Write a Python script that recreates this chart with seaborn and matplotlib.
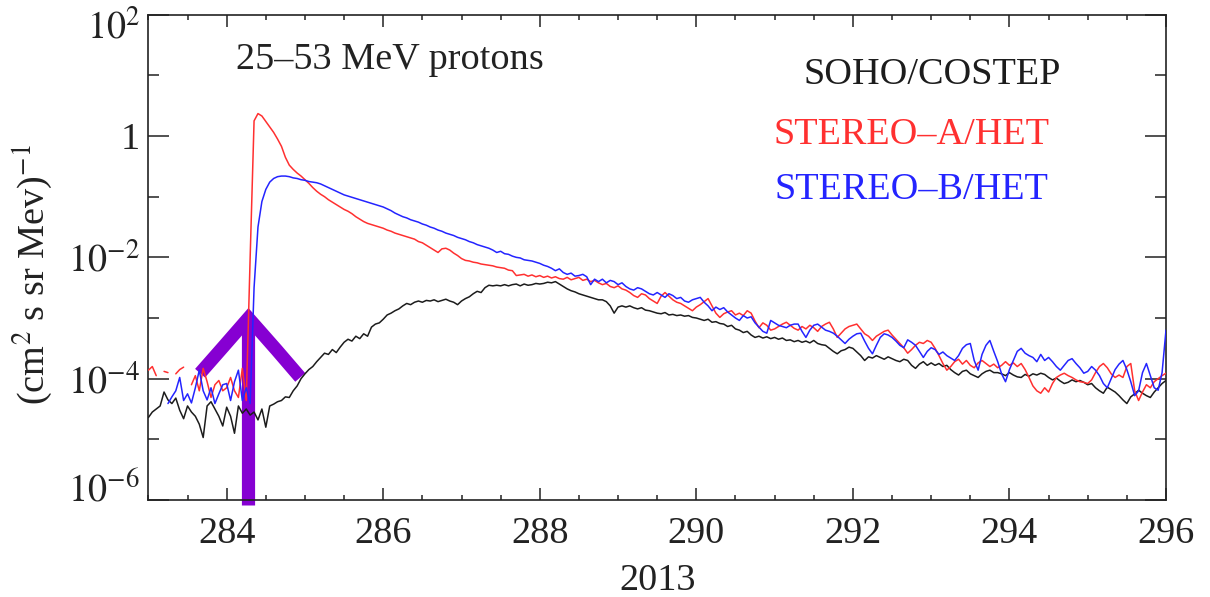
import numpy as np
import pandas as pd
import matplotlib
matplotlib.use("Agg")
import matplotlib.pyplot as plt
import matplotlib.transforms as mtransforms
import seaborn as sns
from matplotlib.ticker import FixedLocator, FixedFormatter, MultipleLocator

nan = np.nan

# time grid: day of year 2013, sampled every 0.05 day
day = np.round(np.linspace(283.0, 296.0, 261), 2)

# log10 of proton intensity
soho_log = [
    -4.64, -4.55, -4.50, -4.45, -4.22, -4.35, -4.41, -4.32, -4.52, -4.66, -4.45, -4.55, -4.62, -4.75, -4.97, -4.45, -4.38, -4.50, -4.62, -4.78,
    -4.47, -4.62, -4.90, -4.45, -4.57, -4.50, -4.60, -4.55, -4.68, -4.50, -4.80, -4.45, -4.42, -4.38, -4.36, -4.30, -4.31, -4.20, -4.12, -4.00,
    -3.92, -3.85, -3.80, -3.72, -3.65, -3.58, -3.60, -3.52, -3.57, -3.48, -3.40, -3.35, -3.38, -3.30, -3.34, -3.26, -3.30, -3.15, -3.10, -3.08,
    -3.02, -2.95, -2.92, -2.88, -2.85, -2.80, -2.76, -2.78, -2.74, -2.72, -2.74, -2.71, -2.72, -2.70, -2.73, -2.71, -2.69, -2.72, -2.74, -2.78,
    -2.72, -2.68, -2.65, -2.60, -2.56, -2.58, -2.50, -2.46, -2.47, -2.46, -2.47, -2.45, -2.47, -2.45, -2.44, -2.47, -2.44, -2.46, -2.45, -2.43,
    -2.44, -2.43, -2.41, -2.42, -2.40, -2.44, -2.48, -2.52, -2.55, -2.57, -2.60, -2.62, -2.64, -2.66, -2.68, -2.70, -2.70, -2.73, -2.80, -2.92,
    -2.82, -2.80, -2.82, -2.80, -2.83, -2.85, -2.83, -2.87, -2.88, -2.90, -2.92, -2.93, -2.91, -2.95, -2.94, -2.96, -2.95, -2.97, -2.96, -2.99,
    -3.00, -3.02, -3.04, -3.02, -3.07, -3.06, -3.09, -3.10, -3.14, -3.12, -3.18, -3.20, -3.24, -3.22, -3.28, -3.32, -3.30, -3.33, -3.31, -3.34,
    -3.32, -3.35, -3.33, -3.37, -3.36, -3.39, -3.37, -3.40, -3.38, -3.41, -3.37, -3.42, -3.44, -3.45, -3.50, -3.55, -3.59, -3.54, -3.52, -3.48,
    -3.50, -3.56, -3.62, -3.70, -3.64, -3.66, -3.62, -3.65, -3.68, -3.64, -3.67, -3.70, -3.72, -3.68, -3.70, -3.78, -3.83, -3.76, -3.72, -3.78,
    -3.74, -3.78, -3.75, -3.80, -3.78, -3.85, -3.90, -3.94, -3.88, -3.86, -3.92, -3.95, -3.98, -3.92, -3.88, -3.86, -3.90, -3.90, -3.92, -3.95,
    -3.90, -3.94, -3.97, -3.98, -3.93, -3.96, -3.92, -3.94, -3.91, -3.93, -3.98, -4.02, -3.99, -4.04, -4.08, -4.06, -4.02, -4.05, -4.03, -4.06,
    -4.10, -4.08, -4.15, -4.20, -4.24, -4.14, -4.18, -4.22, -4.28, -4.35, -4.41, -4.30, -4.25, -4.19, -4.24, -4.28, -4.31, -4.22, -4.15, -4.08,
    -4.03,
]

sta_log = [
    -3.86, -3.80, -3.95, nan, -3.88, -3.90, nan, -3.92, -3.85, -3.81, nan, -4.10, -3.95, -4.20, -3.83, -4.05, -4.31, -4.10, -4.03, -4.20,
    -4.15, -3.98, -4.20, -4.31, -3.83, -4.36, -2.00, 0.25, 0.37, 0.33, 0.24, 0.15, 0.06, -0.05, -0.17, -0.35, -0.48, -0.55, -0.61, -0.66,
    -0.72, -0.78, -0.85, -0.91, -0.96, -1.00, -1.05, -1.09, -1.13, -1.17, -1.21, -1.24, -1.28, -1.33, -1.37, -1.41, -1.44, -1.46, -1.48, -1.50,
    -1.52, -1.55, -1.57, -1.60, -1.62, -1.64, -1.66, -1.68, -1.70, -1.74, -1.76, -1.80, -1.84, -1.88, -1.92, -1.86, -1.85, -1.88, -1.93, -1.97,
    -2.02, -2.05, -2.06, -2.08, -2.09, -2.11, -2.12, -2.13, -2.14, -2.16, -2.17, -2.18, -2.21, -2.22, -2.30, -2.29, -2.28, -2.31, -2.29, -2.32,
    -2.30, -2.33, -2.31, -2.34, -2.32, -2.35, -2.36, -2.33, -2.37, -2.35, -2.33, -2.38, -2.36, -2.40, -2.38, -2.42, -2.45, -2.43, -2.48, -2.50,
    -2.47, -2.52, -2.54, -2.58, -2.63, -2.66, -2.60, -2.62, -2.68, -2.72, -2.76, -2.64, -2.58, -2.64, -2.70, -2.74, -2.76, -2.80, -2.84, -2.88,
    -2.82, -2.78, -2.73, -2.68, -2.80, -2.92, -2.99, -2.93, -2.90, -2.88, -2.95, -2.92, -2.96, -2.88, -2.92, -3.05, -3.16, -3.08, -3.12, -3.20,
    -3.18, -3.14, -3.10, -3.07, -3.12, -3.17, -3.20, -3.14, -3.18, -3.12, -3.16, -3.22, -3.14, -3.10, -3.07, -3.18, -3.32, -3.25, -3.18, -3.14,
    -3.12, -3.10, -3.18, -3.26, -3.30, -3.37, -3.30, -3.26, -3.22, -3.20, -3.28, -3.35, -3.42, -3.49, -3.58, -3.52, -3.45, -3.40, -3.42, -3.37,
    -3.40, -3.50, -3.62, -3.75, -3.86, -3.80, -3.72, -3.68, -3.76, -3.70, -3.78, -3.82, -3.74, -3.70, -3.75, -3.80, -3.76, -3.82, -3.78, -3.72,
    -3.78, -3.74, -3.80, -3.75, -3.85, -3.98, -4.12, -4.20, -4.24, -4.15, -4.22, -4.08, -3.98, -3.94, -3.91, -3.95, -3.98, -4.02, -4.05, -4.06,
    -4.08, -4.02, -3.90, -3.80, -3.75, -3.82, -3.92, -3.98, -3.94, -3.98, -3.80, -3.75, -4.20, -4.36, -4.22, -4.10, -4.15, -4.05, -4.00, -3.95,
    -3.91,
]

stb_log = [
    nan, nan, nan, nan, nan, -4.41, -4.30, -4.20, -3.98, -4.36, -4.25, -4.40, -4.15, -3.86, -4.20, -4.35, -4.15, -4.41, -4.25, -4.10,
    -4.08, -4.36, -4.05, -3.86, -4.36, -4.15, -4.41, -2.50, -1.50, -1.08, -0.88, -0.76, -0.70, -0.67, -0.66, -0.66, -0.67, -0.69, -0.70, -0.72,
    -0.73, -0.75, -0.76, -0.77, -0.79, -0.82, -0.85, -0.88, -0.91, -0.94, -0.97, -0.99, -1.01, -1.03, -1.05, -1.07, -1.09, -1.11, -1.13, -1.15,
    -1.17, -1.20, -1.23, -1.27, -1.30, -1.33, -1.35, -1.38, -1.40, -1.42, -1.45, -1.47, -1.50, -1.52, -1.55, -1.57, -1.60, -1.62, -1.64, -1.67,
    -1.69, -1.71, -1.74, -1.76, -1.79, -1.81, -1.83, -1.85, -1.88, -1.92, -1.90, -1.94, -1.95, -1.98, -2.00, -2.01, -2.04, -2.05, -2.06, -2.08,
    -2.10, -2.13, -2.15, -2.18, -2.22, -2.19, -2.25, -2.28, -2.26, -2.31, -2.30, -2.28, -2.32, -2.45, -2.36, -2.40, -2.36, -2.42, -2.38, -2.40,
    -2.45, -2.42, -2.48, -2.52, -2.54, -2.50, -2.52, -2.56, -2.60, -2.62, -2.58, -2.62, -2.66, -2.60, -2.63, -2.68, -2.66, -2.72, -2.74, -2.70,
    -2.68, -2.66, -2.74, -2.80, -2.88, -2.82, -2.86, -2.83, -2.90, -2.95, -3.00, -3.04, -2.96, -3.00, -2.98, -3.08, -3.15, -3.22, -3.25, -3.04,
    -3.08, -3.12, -3.14, -3.16, -3.12, -3.10, -3.10, -3.22, -3.32, -3.20, -3.12, -3.10, -3.15, -3.20, -3.22, -3.25, -3.30, -3.36, -3.42, -3.35,
    -3.30, -3.26, -3.25, -3.38, -3.50, -3.59, -3.45, -3.32, -3.26, -3.28, -3.32, -3.38, -3.45, -3.49, -3.36, -3.40, -3.45, -3.55, -3.65, -3.55,
    -3.49, -3.52, -3.60, -3.56, -3.62, -3.66, -3.70, -3.62, -3.50, -3.44, -3.42, -3.70, -3.86, -3.60, -3.45, -3.37, -3.55, -3.72, -3.92, -4.05,
    -3.85, -3.70, -3.55, -3.50, -3.58, -3.62, -3.65, -3.72, -3.60, -3.70, -3.65, -3.72, -3.80, -3.86, -3.78, -3.70, -3.67, -3.75, -3.82, -3.91,
    -3.88, -3.80, -3.86, -3.95, -4.08, -4.15, -4.00, -3.85, -3.76, -3.70, -3.85, -4.05, -4.28, -4.20, -3.90, -3.75, -3.95, -4.15, -4.19, -3.90,
    -3.20,
]

series_names = ["SOHO/COSTEP", "STEREO\u2013A/HET", "STEREO\u2013B/HET"]
series_colors = ["#1c1c1c", "#ff3030", "#2424ff"]

# onset marker (arrow) in data coordinates: chevron and shaft
arrow_day = [283.66, 283.96, 284.278, 284.64, 284.94]
arrow_log = [-3.91, -3.47, -3.00, -3.53, -3.98]
shaft_day = [284.278, 284.278]
shaft_log = [-6.09, -3.00]

x_major = [284, 286, 288, 290, 292, 294, 296]
y_major = [1e-6, 1e-4, 1e-2, 1.0, 1e2]
y_major_labels = ["$10^{-6}$", "$10^{-4}$", "$10^{-2}$", "1", "$10^{2}$"]
y_minor = [1e-5, 1e-3, 1e-1, 1e1]

title_text = "25\u201353 MeV protons"
x_label = "2013"
y_label = "(cm$^2$ s sr Mev)$^{-1}$"

assert len(soho_log) == len(day) == len(sta_log) == len(stb_log)

# ---------------------------------------------------------------- data frame
frames = []
for name, vals in zip(series_names, [soho_log, sta_log, stb_log]):
    v = np.array(vals, dtype=float)
    seg = np.cumsum(np.isnan(v))
    d = pd.DataFrame({"day": day, "logflux": v, "seg": seg, "instrument": name})
    d = d.dropna()
    d["flux"] = 10.0 ** d["logflux"]
    d["seg"] = name + "_" + d["seg"].astype(str)
    frames.append(d)
df = pd.concat(frames, ignore_index=True)

# ---------------------------------------------------------------- style
sns.set_style("ticks")
plt.rcParams["font.family"] = ["Liberation Serif", "DejaVu Serif"]
plt.rcParams["mathtext.fontset"] = "stix"
plt.rcParams["axes.linewidth"] = 1.2

FS = 27.5
fig = plt.figure(figsize=(12.1, 5.97), dpi=100)
ax = fig.add_axes([0.12264, 0.16248, 0.84099, 0.81290])

ax.set_yscale("log")

purple = "#8600d2"
ax.plot(shaft_day, 10.0 ** np.array(shaft_log), color=purple, lw=9.5,
        solid_capstyle="butt", clip_on=False, zorder=1)
ax.plot(arrow_day, 10.0 ** np.array(arrow_log), color=purple, lw=9.5,
        solid_joinstyle="miter", solid_capstyle="butt", clip_on=False, zorder=1)

sns.lineplot(data=df, x="day", y="flux", hue="instrument", units="seg",
             estimator=None, palette=dict(zip(series_names, series_colors)),
             hue_order=series_names, linewidth=1.1, legend=False, ax=ax,
             sort=True, zorder=3)

ax.set_xlim(283, 296)
ax.set_ylim(1e-6, 1e2)

ax.xaxis.set_major_locator(FixedLocator(x_major))
ax.xaxis.set_minor_locator(MultipleLocator(0.5))
ax.yaxis.set_major_locator(FixedLocator(y_major))
ax.yaxis.set_major_formatter(FixedFormatter(y_major_labels))
ax.yaxis.set_minor_locator(FixedLocator(y_minor))
ax.yaxis.set_minor_formatter(FixedFormatter([""] * len(y_minor)))

ax.tick_params(axis="both", which="both", direction="in", top=True, right=True,
               width=1.1, colors="#222222", labelsize=FS)
ax.tick_params(axis="x", which="major", length=8.5, pad=12)
ax.tick_params(axis="x", which="minor", length=3.8)
ax.tick_params(axis="y", which="major", length=15, pad=6)
ax.tick_params(axis="y", which="minor", length=8)

# the end labels sit inside the axis range, as in the original
ylabels = ax.get_yticklabels()
for lab, dy_px in zip(ylabels, [14, 0, 0, 0, -9]):
    if dy_px:
        lab.set_transform(lab.get_transform() +
                          mtransforms.ScaledTranslation(0, dy_px / 100.0, fig.dpi_scale_trans))

ax.set_xlabel(x_label, fontsize=FS, color="#222222", labelpad=9)
ax.set_ylabel(y_label, fontsize=FS, color="#222222")
ax.yaxis.set_label_coords(-0.092, 0.4636)

ax.text(0.2374, 0.9067, title_text, transform=ax.transAxes, fontsize=FS,
        ha="center", va="center", color="#222222")
ax.text(0.7701, 0.8757, series_names[0], transform=ax.transAxes, fontsize=FS,
        ha="center", va="center", color=series_colors[0])
ax.text(0.7499, 0.7521, series_names[1], transform=ax.transAxes, fontsize=FS,
        ha="center", va="center", color=series_colors[1])
ax.text(0.7499, 0.6388, series_names[2], transform=ax.transAxes, fontsize=FS,
        ha="center", va="center", color=series_colors[2])

for s in ax.spines.values():
    s.set_color("#222222")
    s.set_visible(True)

fig.savefig("out.png", dpi=100)
